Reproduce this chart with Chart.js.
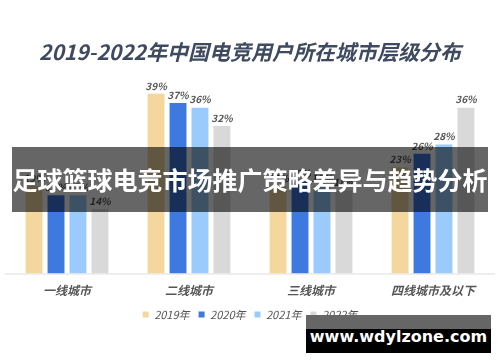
<!DOCTYPE html>
<html>
<head>
<meta charset="utf-8">
<script src="https://cdn.jsdelivr.net/npm/chart.js@4.4.0/dist/chart.umd.min.js"></script>
<style>
  html, body { margin: 0; padding: 0; background: #fff; }
  #wrap { position: relative; width: 500px; height: 362px; overflow: hidden; }
  #banner {
    position: absolute; left: 12px; top: 147px; width: 476px; height: 65px;
    background: rgba(0,0,0,0.6); color: #fff;
    font: bold 25px "Noto Sans CJK SC", sans-serif;
    line-height: 65px; text-align: center; white-space: nowrap;
  }
  #mark {
    position: absolute; left: 306px; top: 315px; width: 185px; height: 38px;
    background: linear-gradient(#666 0, #666 14px, #000 14px, #000 100%);
    color: #fff; font: bold 16px "DejaVu Sans", sans-serif;
    text-align: center; line-height: 44px; white-space: nowrap;
  }
</style>
</head>
<body>
<div id="wrap">
  <canvas id="chart" width="500" height="362"></canvas>
  <div id="banner">足球篮球电竞市场推广策略差异与趋势分析</div>
  <div id="mark">www.wdylzone.com</div>
</div>
<script>
const cities = ['一线城市', '二线城市', '三线城市', '四线城市及以下'];
const years = ['2019年', '2020年', '2021年', '2022年'];
const share2019 = [19, 39, 19, 23];
const share2020 = [17, 37, 20, 26];
const share2021 = [17, 36, 19, 28];
const share2022 = [14, 32, 18, 36];
const colors = ['#F3D79D', '#3D79DF', '#9ACBFC', '#D9D9D9'];

const labelFont = '"Noto Sans CJK SC", sans-serif';

// draw the % figures above each bar
const valueLabels = {
  id: 'valueLabels',
  afterDatasetsDraw(chart) {
    const ctx = chart.ctx;
    ctx.save();
    ctx.font = 'italic bold 10px ' + labelFont;
    ctx.fillStyle = '#555';
    ctx.textAlign = 'center';
    ctx.textBaseline = 'bottom';
    chart.data.datasets.forEach((ds, i) => {
      chart.getDatasetMeta(i).data.forEach((bar, j) => {
        ctx.fillText(ds.data[j] + '%', bar.x, bar.y - 3);
      });
    });
    ctx.restore();
  }
};

const series = [share2019, share2020, share2021, share2022];

new Chart(document.getElementById('chart'), {
  type: 'bar',
  data: {
    labels: cities,
    datasets: series.map((d, i) => ({
      label: years[i],
      data: d,
      backgroundColor: colors[i],
      categoryPercentage: 0.72,
      barPercentage: 0.77
    }))
  },
  options: {
    responsive: false,
    animation: false,
    layout: { padding: { left: 6, right: 6, bottom: 32 } },
    plugins: {
      title: {
        display: true,
        text: '2019-2022年中国电竞用户所在城市层级分布',
        color: '#3E4A5F',
        font: { family: labelFont, size: 21, weight: 'bold', style: 'italic' },
        padding: { top: 39, bottom: 25 }
      },
      legend: {
        position: 'bottom',
        labels: {
          boxWidth: 6, boxHeight: 6, padding: 9,
          color: '#555',
          font: { family: labelFont, size: 11, style: 'italic' }
        }
      },
      tooltip: { enabled: false }
    },
    scales: {
      x: {
        grid: { display: false },
        border: { color: '#EEEEEE', width: 2 },
        ticks: {
          color: '#555', padding: 2,
          font: { family: labelFont, size: 12, weight: 'bold', style: 'italic' }
        }
      },
      y: { display: false, min: 0, max: 40 }
    }
  },
  plugins: [valueLabels]
});
</script>
</body>
</html>
